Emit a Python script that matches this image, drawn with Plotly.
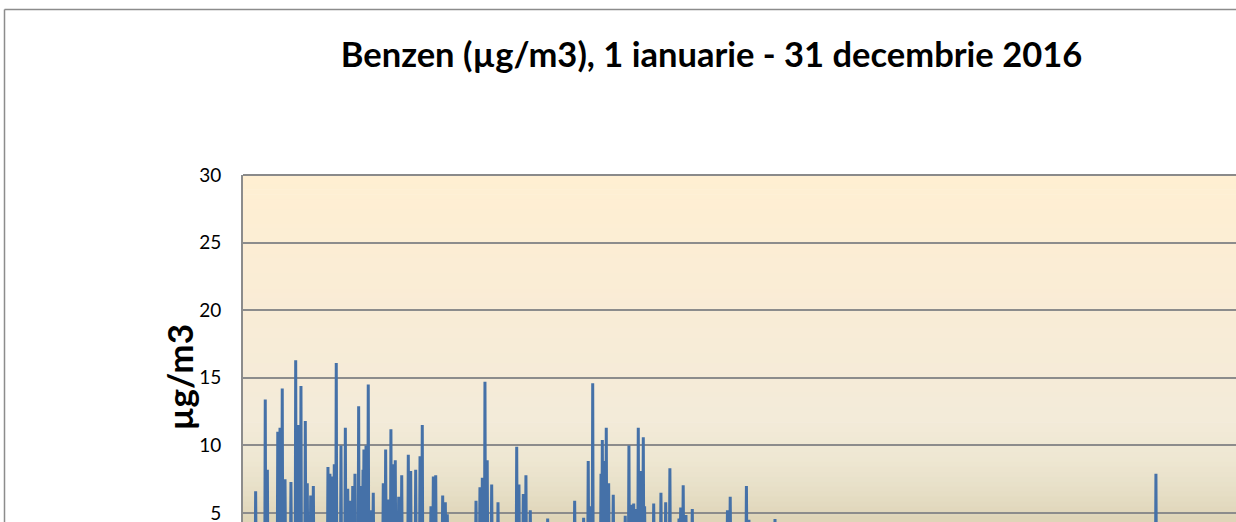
import plotly.graph_objects as go

# ---- data (hour of year 2016, benzen ug/m3) ----
hours = [
    93, 96, 99,
    166, 169, 172,
    182, 185, 188,
    261, 264, 267,
    278, 281, 284,
    295, 298, 301,
    316, 319, 322,
    361, 364, 367,
    397, 400, 403,
    420, 423, 426,
    437, 440, 443,
    470, 473, 476,
    485, 488, 491,
    511, 514, 517,
    531, 534, 537,
    642, 645, 648,
    657, 660, 663,
    673, 676, 679,
    690, 693, 696,
    705, 708, 711,
    741, 744, 747,
    774, 777, 780,
    792, 795, 798,
    809, 812, 815,
    830, 833, 836,
    847, 850, 853,
    875, 878, 881,
    893, 896, 899,
    908, 911, 914,
    915, 918, 921,
    931, 934, 937,
    948, 951, 954,
    966, 969, 972,
    986, 989, 992,
    1062, 1065, 1068,
    1080, 1083, 1086,
    1100, 1103, 1106,
    1120, 1123, 1126,
    1138, 1141, 1144,
    1153, 1156, 1159,
    1179, 1182, 1185,
    1202, 1205, 1208,
    1252, 1255, 1258,
    1270, 1273, 1276,
    1308, 1311, 1314,
    1341, 1344, 1347,
    1358, 1361, 1364,
    1424, 1427, 1430,
    1442, 1445, 1448,
    1460, 1463, 1466,
    1513, 1516, 1519,
    1533, 1536, 1539,
    1548, 1551, 1554,
    1766, 1769, 1772,
    1796, 1799, 1802,
    1814, 1817, 1820,
    1834, 1837, 1840,
    1851, 1854, 1857,
    1885, 1888, 1891,
    1933, 1936, 1939,
    2075, 2078, 2081,
    2092, 2095, 2098,
    2125, 2128, 2131,
    2145, 2148, 2151,
    2178, 2181, 2184,
    2310, 2313, 2316,
    2515, 2518, 2521,
    2583, 2586, 2589,
    2618, 2621, 2624,
    2633, 2636, 2639,
    2652, 2655, 2658,
    2715, 2718, 2721,
    2725, 2728, 2731,
    2740, 2743, 2746,
    2755, 2758, 2761,
    2773, 2776, 2779,
    2808, 2811, 2814,
    2899, 2902, 2905,
    2927, 2930, 2933,
    2948, 2951, 2954,
    2963, 2966, 2969,
    2978, 2981, 2984,
    2998, 3001, 3004,
    3018, 3021, 3024,
    3036, 3039, 3042,
    3046, 3049, 3052,
    3115, 3118, 3121,
    3170, 3173, 3176,
    3206, 3209, 3212,
    3238, 3241, 3244,
    3307, 3310, 3313,
    3320, 3323, 3326,
    3339, 3342, 3345,
    3360, 3363, 3366,
    3408, 3411, 3414,
    3675, 3678, 3681,
    3696, 3699, 3702,
    3819, 3822, 3825,
    3838, 3841, 3844,
    4036, 4039, 4042,
    6928, 6931, 6934,
]

benzen = [
    2.1, 6.6, 2.4,
    2.5, 13.4, 3.0,
    3.0, 8.2, 2.6,
    3.2, 11.0, 3.4,
    3.4, 11.3, 3.6,
    3.6, 14.2, 3.5,
    3.1, 7.5, 2.9,
    3.0, 7.3, 3.2,
    3.5, 16.3, 3.8,
    3.6, 11.5, 3.7,
    3.8, 14.4, 3.6,
    3.5, 11.8, 3.4,
    3.2, 7.2, 3.0,
    2.9, 6.3, 3.1,
    3.0, 7.0, 2.6,
    3.1, 8.4, 3.3,
    3.3, 7.9, 3.2,
    3.2, 7.7, 3.4,
    3.4, 8.6, 3.6,
    3.7, 16.1, 3.8,
    3.5, 10.0, 3.4,
    3.6, 11.3, 3.3,
    3.1, 6.8, 3.0,
    2.9, 5.9, 3.1,
    3.0, 7.0, 3.2,
    3.2, 7.9, 3.3,
    3.4, 12.9, 3.5,
    3.2, 7.0, 3.3,
    3.4, 8.2, 3.6,
    3.6, 9.7, 3.7,
    3.7, 10.0, 3.8,
    3.8, 14.5, 3.4,
    3.1, 5.2, 3.0,
    2.9, 6.5, 2.7,
    3.0, 7.2, 3.3,
    3.4, 9.7, 3.5,
    3.3, 6.0, 3.4,
    3.5, 11.2, 3.6,
    3.6, 8.6, 3.5,
    3.5, 8.9, 3.3,
    3.1, 6.2, 3.2,
    3.2, 7.8, 3.0,
    3.3, 9.3, 3.5,
    3.4, 8.1, 3.2,
    3.1, 8.2, 3.0,
    3.3, 9.2, 3.5,
    3.6, 11.5, 3.2,
    2.9, 5.5, 3.1,
    3.2, 7.7, 3.4,
    3.4, 7.8, 3.2,
    3.0, 6.3, 3.1,
    3.0, 5.8, 2.9,
    2.8, 4.9, 2.5,
    2.7, 5.9, 3.0,
    3.1, 6.9, 3.3,
    3.4, 7.6, 3.6,
    3.7, 14.7, 3.8,
    3.6, 8.9, 3.4,
    3.2, 7.1, 3.0,
    2.8, 5.8, 2.6,
    2.9, 9.9, 3.2,
    3.1, 7.1, 3.0,
    2.9, 6.4, 3.0,
    3.0, 7.8, 2.8,
    2.7, 5.2, 2.5,
    2.4, 4.6, 2.3,
    2.5, 5.9, 2.6,
    2.4, 4.65, 2.6,
    2.8, 8.85, 3.1,
    3.0, 5.5, 3.2,
    3.3, 14.6, 3.4,
    3.2, 7.9, 3.5,
    3.6, 10.4, 3.7,
    3.6, 8.85, 3.7,
    3.7, 11.3, 3.5,
    3.3, 7.2, 3.1,
    3.0, 6.35, 2.8,
    2.6, 4.8, 2.9,
    3.1, 10.0, 3.3,
    3.2, 5.6, 3.3,
    3.3, 5.7, 3.2,
    3.1, 5.3, 3.3,
    3.5, 11.3, 3.6,
    3.5, 8.1, 3.6,
    3.6, 10.6, 3.4,
    3.2, 5.5, 3.0,
    2.8, 5.7, 2.9,
    2.9, 6.5, 3.0,
    2.9, 5.8, 3.1,
    3.0, 8.3, 2.8,
    2.6, 4.6, 2.8,
    2.9, 5.4, 3.0,
    3.0, 7.05, 2.9,
    2.8, 4.85, 2.6,
    2.6, 5.3, 2.4,
    2.3, 5.2, 2.6,
    2.7, 6.2, 2.5,
    2.5, 7.0, 2.8,
    2.7, 4.5, 2.4,
    2.2, 4.55, 2.1,
    1.8, 7.9, 1.9,
]

yticks = [5, 10, 15, 20, 25, 30]

# ---- figure geometry (pixels) ----
W, H = 1236, 522
L, T = 243, 175
plot_w, plot_h = W - L, H - T
hours_full_width = 8784          # whole year spans a wider plot than the visible crop
px_per_hour = 1157 / hours_full_width
x_visible_max = plot_w / px_per_hour

fig = go.Figure()
fig.add_trace(go.Scatter(
    x=hours, y=benzen, mode="lines",
    line=dict(color="#4571A8", width=3),
    hoverinfo="x+y", showlegend=False,
))

# background gradient of the plot area
stops = [(0.0, (255, 239, 210)), (0.39, (249, 236, 214)), (0.70, (243, 235, 217)),
         (0.82, (238, 231, 210)), (0.91, (231, 223, 199)), (1.0, (222, 212, 183))]

def col_at(t):
    for (t0, c0), (t1, c1) in zip(stops[:-1], stops[1:]):
        if t0 <= t <= t1:
            f = (t - t0) / (t1 - t0) if t1 > t0 else 0
            return "rgb(%d,%d,%d)" % tuple(round(a + (b - a) * f) for a, b in zip(c0, c1))
    return "rgb(%d,%d,%d)" % stops[-1][1]

nb = 70
shapes = []
for i in range(nb):
    t = (i + 0.5) / nb               # from top (0) to bottom (1)
    shapes.append(dict(type="rect", xref="x domain", yref="y domain",
                       x0=0, x1=1, y0=1 - (i + 1) / nb, y1=1 - i / nb + 0.002,
                       fillcolor=col_at(t), line=dict(width=0), layer="below"))

# outer chart frame (top and left edges visible in the crop)
fx = (4.5 - L) / plot_w
fy = (H - 9.5) / plot_h
frame = dict(color="#8C8C8C", width=1.5)
shapes.append(dict(type="line", xref="paper", yref="paper", x0=fx, x1=1.01, y0=fy, y1=fy, line=frame))
shapes.append(dict(type="line", xref="paper", yref="paper", x0=fx, x1=fx, y0=fy, y1=-0.05, line=frame))
# top border of plot area
shapes.append(dict(type="line", xref="x domain", yref="y domain", x0=0, x1=1, y0=1, y1=1,
                   line=dict(color="#8A8A8A", width=2)))

fig.update_layout(
    width=W, height=H,
    margin=dict(l=L, r=0, t=T, b=0, pad=0, autoexpand=False),
    paper_bgcolor="white", plot_bgcolor="rgba(0,0,0,0)",
    shapes=shapes,
    title=dict(text="<b>Benzen (µg/m3), 1 ianuarie - 31 decembrie 2016</b>",
               xref="container", yref="container", x=711.5 / W, xanchor="center",
               y=1 - 55 / H, yanchor="middle",
               font=dict(family="Lato", size=34.5, color="black")),
    annotations=[dict(text="<b>µg/m3</b>", xref="paper", yref="paper",
                      x=(178 - L) / plot_w, y=(H - 377.5) / plot_h,
                      xanchor="center", yanchor="middle", textangle=-90, showarrow=False,
                      font=dict(family="Lato", size=35, color="black"))],
)

fig.update_xaxes(range=[0, x_visible_max], showgrid=False, zeroline=False,
                 showticklabels=False, showline=False, ticks="", automargin=False)
fig.update_yaxes(range=[30 - 25 * plot_h / 338, 30], tickvals=yticks,
                 ticktext=[str(v) for v in yticks],
                 showgrid=True, gridcolor="#8C8C8C", gridwidth=2,
                 zeroline=False, showline=True, linecolor="#8C8C8C", linewidth=2,
                 ticks="", ticklabelstandoff=16, automargin=False,
                 ticklabeloverflow="allow",
                 tickfont=dict(family="Lato", size=19, color="black"))

fig.write_html("out.html", config={"displayModeBar": False},
               post_script="document.body.style.margin='0';document.body.style.overflow='hidden';")
